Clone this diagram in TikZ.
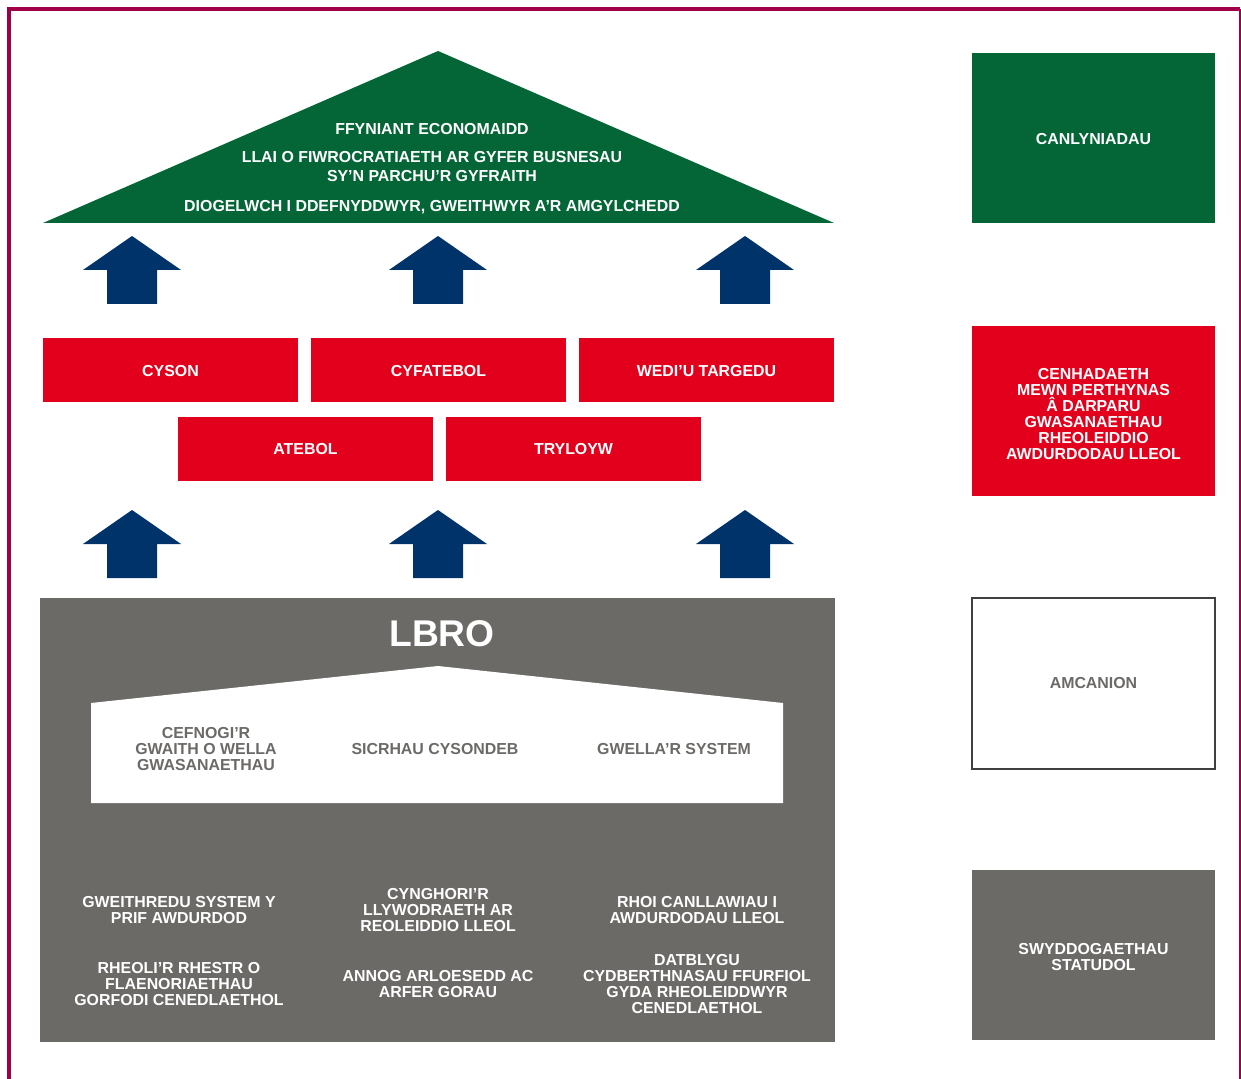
\documentclass[tikz,border=0pt]{standalone}
\usepackage{fontspec}
\setmainfont{Liberation Sans}
\usepackage{xcolor}
\definecolor{lbromaroon}{HTML}{A0004A}
\definecolor{lbrogreen}{HTML}{046636}
\definecolor{lbrored}{HTML}{E2001D}
\definecolor{lbronavy}{HTML}{00336A}
\definecolor{lbrogrey}{HTML}{6C6A67}
\tikzset{
  boxtext/.style={font=\bfseries\fontsize{7.95}{8}\selectfont, align=center, text=white, inner sep=0pt},
  redbar/.style={fill=lbrored, minimum width=127.5pt, minimum height=32pt, inner sep=0pt},
  sidebox/.style={minimum width=121.5pt, minimum height=85pt, inner sep=0pt},
  aimtext/.style={boxtext, text=lbrogrey},
  dutytext/.style={boxtext}
}

\begin{document}
\begin{tikzpicture}[x=0.5pt, y=-0.5pt]
    \useasboundingbox (0,0) rectangle (1241,1079);
    % Frame
    \draw[lbromaroon, line width=2pt] (9,1079) -- (9,9) -- (1240,9);
    \draw[lbromaroon, line width=1pt] (1240,9) -- (1240,1079);

    % Roof
    \fill[lbrogreen] (43,223) -- (438,51) -- (834,223) -- cycle;
    \node[boxtext] (growth) at (432,129) {FFYNIANT ECONOMAIDD};
    \node[boxtext, font=\bfseries\fontsize{7.95}{9.5}\selectfont] (burden) at (432,167) {LLAI O FIWROCRATIAETH AR GYFER BUSNESAU\\SY’N PARCHU’R GYFRAITH};
    \node[boxtext] (protect) at (432,207) {DIOGELWCH I DDEFNYDDWYR, GWEITHWYR A’R AMGYLCHEDD};

    % Up arrows
    \foreach \ax in {132,438,745} {
        \foreach \ay in {236,510} {
            \fill[lbronavy] (\ax,\ay) -- ++(49,34) -- ++(-24,0) -- ++(0,34) -- ++(-50,0) -- ++(0,-34) -- ++(-24,0) -- cycle;
        }
    }

    % Principles
    \node[redbar] (cyson) at (170.5,370) {};
    \node[redbar] (cyfatebol) at (438.5,370) {};
    \node[redbar] (targedu) at (706.5,370) {};
    \node[redbar] (atebol) at (305.5,449) {};
    \node[redbar] (tryloyw) at (573.5,449) {};
    \node[boxtext] at ([yshift=-0.5pt]cyson) {CYSON};
    \node[boxtext] at ([yshift=-0.5pt]cyfatebol) {CYFATEBOL};
    \node[boxtext] at ([yshift=-0.5pt]targedu) {WEDI’U TARGEDU};
    \node[boxtext] at (atebol) {ATEBOL};
    \node[boxtext] at (tryloyw) {TRYLOYW};

    % LBRO
    \node[fill=lbrogrey, minimum width=397.5pt, minimum height=222pt, inner sep=0pt] (lbro) at (437.5,820) {};
    \node[boxtext, font=\bfseries\fontsize{18.6}{19}\selectfont] (lbrotitle) at (442,634) {LBRO};
    \fill[white] (91,803) -- (91,703) -- (438,666) -- (783,703) -- (783,803) -- cycle;
    \node[aimtext] (support) at (206,749) {CEFNOGI’R\\GWAITH O WELLA\\GWASANAETHAU};
    \node[aimtext] (consistency) at (435,749) {SICRHAU CYSONDEB};
    \node[aimtext] (improve) at (674,749) {GWELLA’R SYSTEM};

    \node[dutytext] (primary) at (179,910) {GWEITHREDU SYSTEM Y\\PRIF AWDURDOD};
    \node[dutytext] (advise) at (438,910) {CYNGHORI’R\\LLYWODRAETH AR\\REOLEIDDIO LLEOL};
    \node[dutytext] (guidance) at (697,910) {RHOI CANLLAWIAU I\\AWDURDODAU LLEOL};
    \node[dutytext] (priorities) at (179,984) {RHEOLI’R RHESTR O\\FLAENORIAETHAU\\GORFODI CENEDLAETHOL};
    \node[dutytext] (innovation) at (438,984) {ANNOG ARLOESEDD AC\\ARFER GORAU};
    \node[dutytext] (relations) at (697,984) {DATBLYGU\\CYDBERTHNASAU FFURFIOL\\GYDA RHEOLEIDDWYR\\CENEDLAETHOL};

    % Key
    \node[sidebox, fill=lbrogreen] (outcomes) at (1093.5,138) {};
    \node[sidebox, fill=lbrored] (mission) at (1093.5,411) {};
    \node[sidebox, draw=black!75, line width=0.75pt, fill=white, minimum height=85.5pt] (aims) at (1093.5,683.5) {};
    \node[sidebox, fill=lbrogrey] (duties) at (1093.5,955) {};
    \node[boxtext] at ([yshift=-0.5pt]outcomes) {CANLYNIADAU};
    \node[boxtext] at ([yshift=-1.5pt]mission) {CENHADAETH\\MEWN PERTHYNAS\\Â DARPARU\\GWASANAETHAU\\RHEOLEIDDIO\\AWDURDODAU LLEOL};
    \node[aimtext] at (aims) {AMCANION};
    \node[boxtext] at ([yshift=-1pt]duties) {SWYDDOGAETHAU\\STATUDOL};
\end{tikzpicture}
\end{document}
